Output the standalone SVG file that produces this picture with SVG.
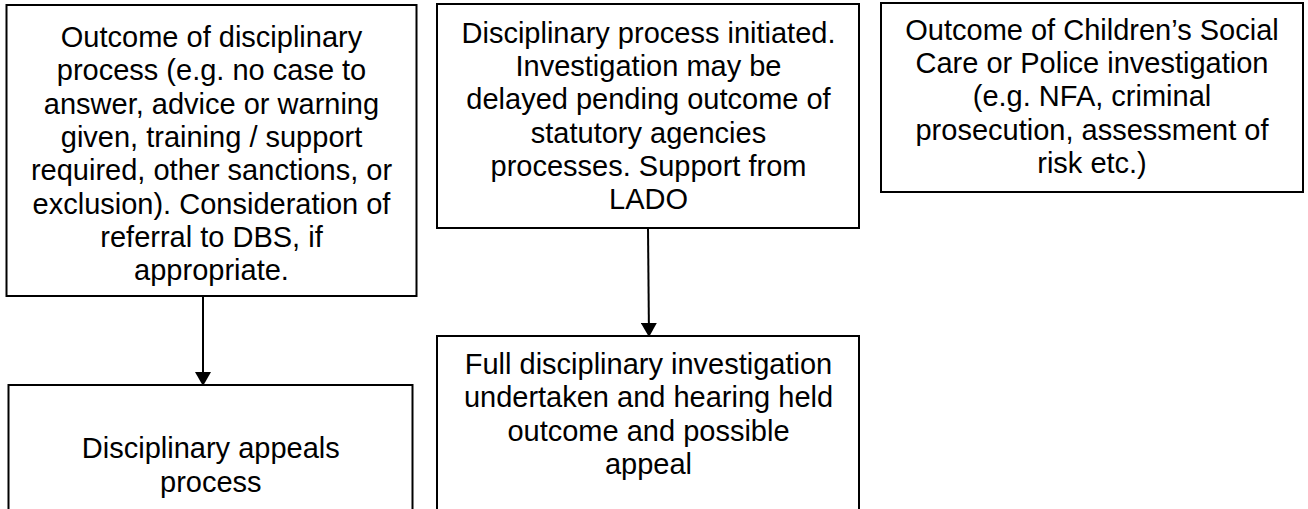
<svg xmlns="http://www.w3.org/2000/svg" width="1308" height="509" viewBox="0 0 1308 509">
<style>
.box{fill:#fff;stroke:#000;stroke-width:2}
.t{font-family:"Liberation Sans",Arial,sans-serif;font-size:29px;fill:#000;text-anchor:middle}
.conn{stroke:#000;stroke-width:2;fill:none}
</style>
<defs>
<marker id="arr" markerUnits="userSpaceOnUse" markerWidth="18" markerHeight="16" refX="14" refY="8" orient="auto">
<path d="M0,0 L14,8 L0,16 Z" fill="#000"/>
</marker>
</defs>
<rect width="1308" height="509" fill="#fff"/>
<g id="n1">
<rect class="box" x="6.5" y="5" width="410" height="291"/>
<text class="t" x="211.5" y="47">Outcome of disciplinary</text>
<text class="t" x="211.5" y="80.3">process (e.g. no case to</text>
<text class="t" x="211.5" y="113.7">answer, advice or warning</text>
<text class="t" x="211.5" y="147">given, training / support</text>
<text class="t" x="211.5" y="180.3">required, other sanctions, or</text>
<text class="t" x="211.5" y="213.7">exclusion). Consideration of</text>
<text class="t" x="211.5" y="247">referral to DBS, if</text>
<text class="t" x="211.5" y="280.3">appropriate.</text>
</g>
<g id="n2">
<rect class="box" x="437" y="4" width="422" height="224"/>
<text class="t" x="648.5" y="42.5">Disciplinary process initiated.</text>
<text class="t" x="648.5" y="75.8">Investigation may be</text>
<text class="t" x="648.5" y="109.2">delayed pending outcome of</text>
<text class="t" x="648.5" y="142.5">statutory agencies</text>
<text class="t" x="648.5" y="175.9">processes. Support from</text>
<text class="t" x="648.5" y="209.2">LADO</text>
</g>
<g id="n3">
<rect class="box" x="881" y="3" width="422" height="189"/>
<text class="t" x="1092" y="39.5">Outcome of Children’s Social</text>
<text class="t" x="1092" y="72.8">Care or Police investigation</text>
<text class="t" x="1092" y="106.2">(e.g. NFA, criminal</text>
<text class="t" x="1092" y="139.5">prosecution, assessment of</text>
<text class="t" x="1092" y="172.9">risk etc.)</text>
</g>
<g id="n4">
<rect class="box" x="8.5" y="385" width="404" height="140"/>
<text class="t" x="210.8" y="458.3">Disciplinary appeals</text>
<text class="t" x="210.8" y="491.7">process</text>
</g>
<g id="n5">
<rect class="box" x="437" y="336" width="422" height="190"/>
<text class="t" x="648.5" y="374">Full disciplinary investigation</text>
<text class="t" x="648.5" y="407.3">undertaken and hearing held</text>
<text class="t" x="648.5" y="440.7">outcome and possible</text>
<text class="t" x="648.5" y="474">appeal</text>
</g>
<g id="connectors">
<line class="conn" x1="203" y1="296" x2="203" y2="386" marker-end="url(#arr)"/>
<line class="conn" x1="648" y1="228" x2="649" y2="337" marker-end="url(#arr)"/>
</g>
</svg>
